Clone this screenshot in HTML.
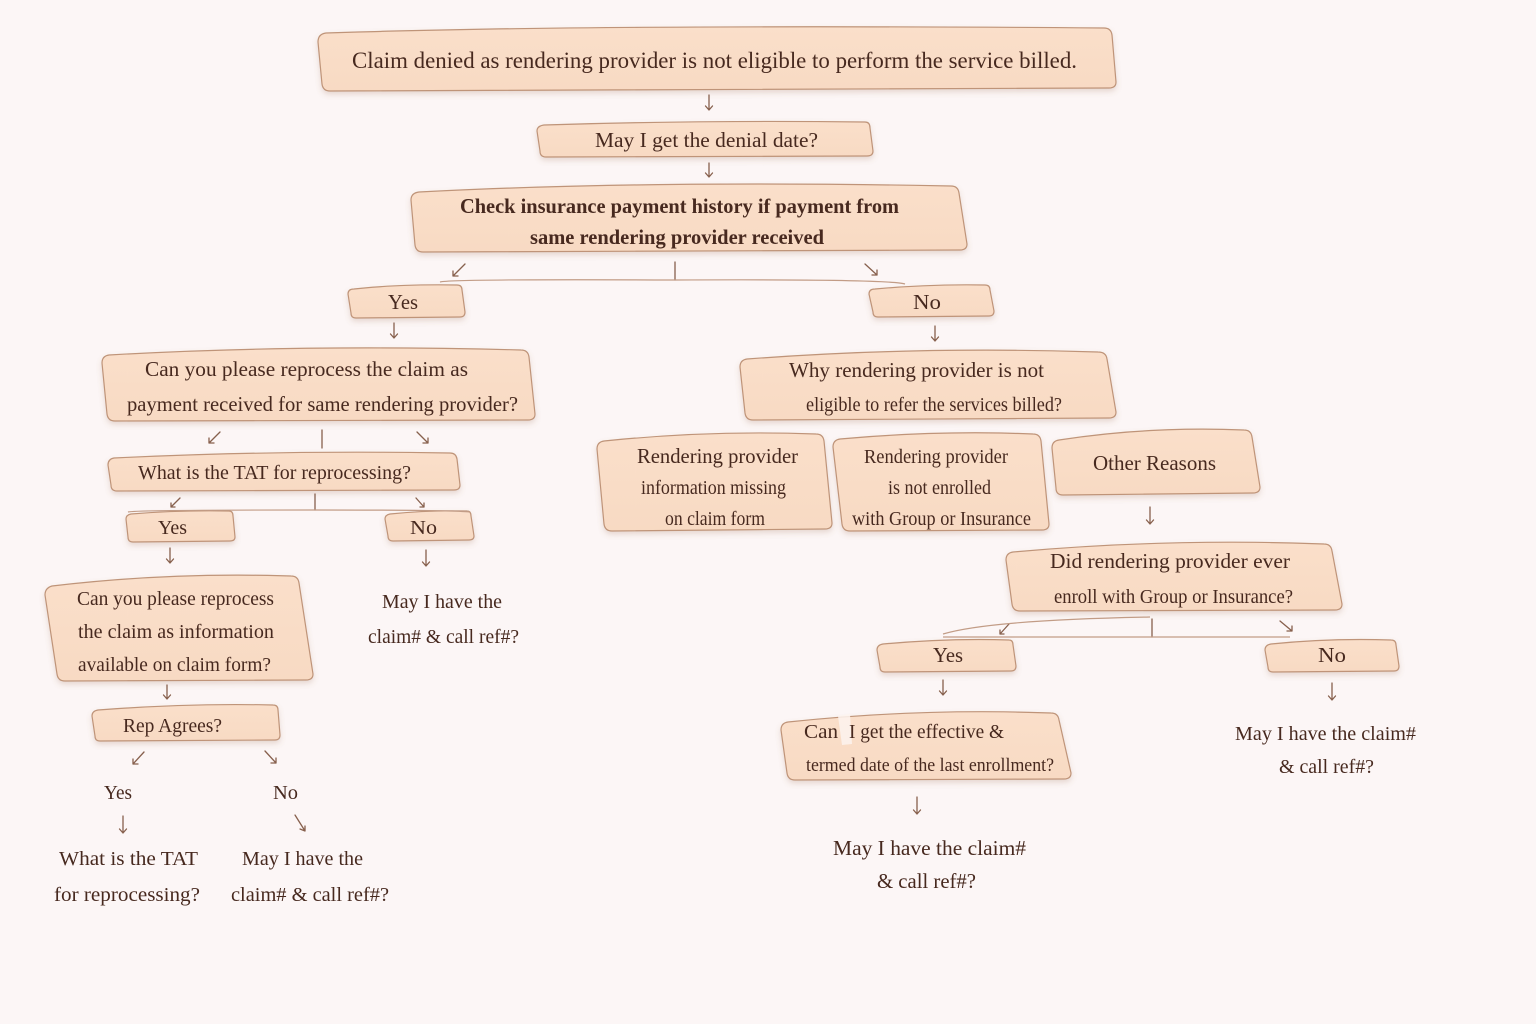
<!DOCTYPE html>
<html><head><meta charset="utf-8"><style>
html,body{margin:0;padding:0;background:#fcf6f6;}
svg{display:block;}
text{font-family:"Liberation Serif",serif;fill:#47291f;}
.b{fill:url(#g);stroke:#bf9479;stroke-width:1.2;filter:url(#sh);}
.c{stroke:#87604d;stroke-width:1.3;fill:none;stroke-linecap:round;stroke-linejoin:round;}
.t{stroke:#c29c86;stroke-width:1.2;fill:none;}
</style></head><body>
<svg width="1536" height="1024" viewBox="0 0 1536 1024" xmlns="http://www.w3.org/2000/svg">
<defs>
<linearGradient id="g" x1="0" y1="0" x2="0" y2="1"><stop offset="0" stop-color="#fadfca"/><stop offset="1" stop-color="#f8dac3"/></linearGradient>
<filter id="sh" x="-10%" y="-20%" width="120%" height="150%"><feDropShadow dx="0" dy="3" stdDeviation="3" flood-color="#9a6a50" flood-opacity="0.22"/></filter>
</defs>
<rect width="1536" height="1024" fill="#fcf6f6"/>

<!-- boxes -->
<path class="b" d="M326,33 Q600,24 1104,28 Q1111,28 1112,35 L1116,82 Q1116,88 1109,88 L330,91 Q323,91 322,84 L318,42 Q318,34 326,33 Z"/>
<path class="b" d="M544,125 Q700,120 865,122 Q870,122 870,128 L873,151 Q873,156 867,156 L546,157 Q540,157 540,151 L537,131 Q537,126 544,125 Z"/>
<path class="b" d="M419,192 Q650,180 951,186 Q958,186 959,193 L967,244 Q967,250 960,250 L423,252 Q416,252 415,245 L411,200 Q411,193 419,192 Z"/>
<path class="b" d="M354,289 Q400,284 457,285 Q462,285 462,290 L465,312 Q465,317 460,317 L356,318 Q351,318 351,313 L348,294 Q348,289 354,289 Z"/>
<path class="b" d="M875,289 Q930,284 985,285 Q990,285 990,290 L994,311 Q994,316 989,316 L878,317 Q873,317 873,312 L869,294 Q869,289 875,289 Z"/>
<path class="b" d="M109,355 Q300,344 521,350 Q528,350 529,357 L535,414 Q535,420 528,420 L115,421 Q108,421 107,414 L102,363 Q102,356 109,355 Z"/>
<path class="b" d="M114,458 Q280,450 450,453 Q456,453 457,459 L460,485 Q460,490 454,490 L117,491 Q111,491 111,485 L108,465 Q108,459 114,458 Z"/>
<path class="b" d="M131,514 Q180,510 229,511 Q233,511 233,516 L235,537 Q235,541 230,541 L133,542 Q128,542 128,537 L126,519 Q126,515 131,514 Z"/>
<path class="b" d="M390,514 Q430,510 467,511 Q471,511 471,516 L474,536 Q474,540 469,540 L393,541 Q388,541 388,536 L385,519 Q385,515 390,514 Z"/>
<path class="b" d="M52,586 Q170,572 291,576 Q298,576 299,583 L313,674 Q313,680 306,680 L65,681 Q58,681 57,674 L45,595 Q45,588 52,586 Z"/>
<path class="b" d="M98,710 Q190,703 273,705 Q278,705 278,710 L280,735 Q280,740 275,740 L100,741 Q95,741 95,736 L92,716 Q92,711 98,710 Z"/>
<path class="b" d="M747,359 Q920,346 1098,352 Q1106,352 1107,359 L1116,412 Q1116,418 1109,418 L753,420 Q746,420 745,413 L740,367 Q740,360 747,359 Z"/>
<path class="b" d="M604,441 Q710,430 816,434 Q823,434 824,441 L832,523 Q832,529 825,529 L612,531 Q605,531 604,524 L597,449 Q597,442 604,441 Z"/>
<path class="b" d="M840,439 Q940,430 1033,434 Q1040,434 1041,441 L1049,524 Q1049,530 1042,530 L850,531 Q843,531 842,524 L833,447 Q833,440 840,439 Z"/>
<path class="b" d="M1059,440 Q1150,426 1244,430 Q1251,430 1252,437 L1260,487 Q1260,493 1253,493 L1063,495 Q1056,495 1056,488 L1052,448 Q1052,441 1059,440 Z"/>
<path class="b" d="M1013,552 Q1170,538 1324,544 Q1331,544 1332,551 L1342,604 Q1342,610 1335,610 L1020,611 Q1013,611 1012,604 L1006,560 Q1006,553 1013,552 Z"/>
<path class="b" d="M883,644 Q950,638 1009,640 Q1013,640 1013,645 L1016,666 Q1016,671 1011,671 L885,672 Q880,672 880,667 L877,650 Q877,645 883,644 Z"/>
<path class="b" d="M1271,644 Q1330,638 1391,640 Q1396,640 1396,645 L1399,666 Q1399,671 1394,671 L1273,672 Q1268,672 1268,667 L1265,650 Q1265,645 1271,644 Z"/>
<path class="b" d="M788,722 Q920,708 1051,713 Q1058,713 1059,720 L1071,773 Q1071,779 1064,779 L795,780 Q788,780 787,773 L781,730 Q781,723 788,722 Z"/>
<path d="M838,716 L850,714 L852,744 L842,745 Z" fill="#fdf3ee" opacity="0.85"/>

<!-- connectors -->
<g class="c">
<path d="M709,95 V110 M705.5,106 L709,110 L712.5,106"/>
<path d="M709,163 V177 M705.5,173 L709,177 L712.5,173"/>
<path d="M394,323 V338 M390.5,334 L394,338 L397.5,334"/>
<path d="M935,326 V341 M931.5,337 L935,341 L938.5,337"/>
<path d="M170,548 V563 M166.5,559 L170,563 L173.5,559"/>
<path d="M426,550 V566 M422.5,562 L426,566 L429.5,562"/>
<path d="M167,685 V699 M163.5,695 L167,699 L170.5,695"/>
<path d="M1150,507 V524 M1146.5,520 L1150,524 L1153.5,520"/>
<path d="M943,680 V695 M939.5,691 L943,695 L946.5,691"/>
<path d="M1332,683 V700 M1328.5,696 L1332,700 L1335.5,696"/>
<path d="M917,797 V814 M913.5,810 L917,814 L920.5,810"/>
<path d="M123,816 V833 M119.5,829 L123,833 L126.5,829"/>
<path d="M465,264 L453,276 M453,271 L453,276 L458,276"/>
<path d="M865,264 L877,275 M877,270 L877,275 L872,275"/>
<path d="M220,432 L209,443 M209,438 L209,443 L214,443"/>
<path d="M417,432 L428,443 M428,438 L428,443 L423,443"/>
<path d="M180,498 L171,507 M171,503 L171,507 L175,507"/>
<path d="M416,498 L424,507 M424,503 L424,507 L420,507"/>
<path d="M144,752 L133,764 M133,759 L133,764 L138,764"/>
<path d="M265,751 L276,763 M276,758 L276,763 L271,763"/>
<path d="M295,815 L305,831 M305,826 L305,831 L300,829"/>
<path d="M1009,624 L1000,634 M1000,630 L1000,634 L1004,634"/>
<path d="M1280,621 L1292,631 M1292,626 L1292,631 L1287,631"/>
<path d="M675,262 V280"/>
<path d="M322,430 V448"/>
<path d="M315,494 V510"/>
<path d="M1152,619 V637"/>
</g>
<g class="t">
<path d="M440,282 Q450,279 675,280 Q890,279 905,284"/>
<path d="M128,512 Q135,510 315,510 Q450,510 470,512"/>
<path d="M943,637 L1290,637"/>
<path d="M943,634 Q990,620 1150,617"/>
</g>

<!-- texts -->
<text x="352" y="68" font-size="23" textLength="725" lengthAdjust="spacingAndGlyphs">Claim denied as rendering provider is not eligible to perform the service billed.</text>
<text x="595" y="147" font-size="21" textLength="223" lengthAdjust="spacingAndGlyphs">May I get the denial date?</text>
<text x="460" y="213" font-size="21" font-weight="bold" textLength="439" lengthAdjust="spacingAndGlyphs">Check insurance payment history if payment from</text>
<text x="530" y="244" font-size="21" font-weight="bold" textLength="294" lengthAdjust="spacingAndGlyphs">same rendering provider received</text>
<text x="388" y="309" font-size="21" textLength="30" lengthAdjust="spacingAndGlyphs">Yes</text>
<text x="913" y="309" font-size="21" textLength="28" lengthAdjust="spacingAndGlyphs">No</text>
<text x="145" y="376" font-size="21" textLength="323" lengthAdjust="spacingAndGlyphs">Can you please reprocess the claim as</text>
<text x="127" y="411" font-size="21" textLength="391" lengthAdjust="spacingAndGlyphs">payment received for same rendering provider?</text>
<text x="138" y="479" font-size="20" textLength="273" lengthAdjust="spacingAndGlyphs">What is the TAT for reprocessing?</text>
<text x="158" y="534" font-size="20" textLength="29" lengthAdjust="spacingAndGlyphs">Yes</text>
<text x="410" y="534" font-size="20" textLength="27" lengthAdjust="spacingAndGlyphs">No</text>
<text x="77" y="605" font-size="20" textLength="197" lengthAdjust="spacingAndGlyphs">Can you please reprocess</text>
<text x="78" y="638" font-size="20" textLength="196" lengthAdjust="spacingAndGlyphs">the claim as information</text>
<text x="78" y="671" font-size="20" textLength="193" lengthAdjust="spacingAndGlyphs">available on claim form?</text>
<text x="382" y="608" font-size="20" textLength="120" lengthAdjust="spacingAndGlyphs">May I have the</text>
<text x="368" y="643" font-size="20" textLength="151" lengthAdjust="spacingAndGlyphs">claim# &amp; call ref#?</text>
<text x="123" y="732" font-size="20" textLength="99" lengthAdjust="spacingAndGlyphs">Rep Agrees?</text>
<text x="104" y="799" font-size="20" textLength="28" lengthAdjust="spacingAndGlyphs">Yes</text>
<text x="273" y="799" font-size="20" textLength="25" lengthAdjust="spacingAndGlyphs">No</text>
<text x="59" y="865" font-size="20" textLength="139" lengthAdjust="spacingAndGlyphs">What is the TAT</text>
<text x="54" y="901" font-size="20" textLength="146" lengthAdjust="spacingAndGlyphs">for reprocessing?</text>
<text x="242" y="865" font-size="20" textLength="121" lengthAdjust="spacingAndGlyphs">May I have the</text>
<text x="231" y="901" font-size="20" textLength="158" lengthAdjust="spacingAndGlyphs">claim# &amp; call ref#?</text>
<text x="789" y="377" font-size="21" textLength="255" lengthAdjust="spacingAndGlyphs">Why rendering provider is not</text>
<text x="806" y="411" font-size="20" textLength="256" lengthAdjust="spacingAndGlyphs">eligible to refer the services billed?</text>
<text x="637" y="463" font-size="21" textLength="161" lengthAdjust="spacingAndGlyphs">Rendering provider</text>
<text x="641" y="494" font-size="20" textLength="145" lengthAdjust="spacingAndGlyphs">information missing</text>
<text x="665" y="525" font-size="20" textLength="100" lengthAdjust="spacingAndGlyphs">on claim form</text>
<text x="864" y="463" font-size="20" textLength="144" lengthAdjust="spacingAndGlyphs">Rendering provider</text>
<text x="888" y="494" font-size="20" textLength="103" lengthAdjust="spacingAndGlyphs">is not enrolled</text>
<text x="852" y="525" font-size="20" textLength="179" lengthAdjust="spacingAndGlyphs">with Group or Insurance</text>
<text x="1093" y="470" font-size="21" textLength="123" lengthAdjust="spacingAndGlyphs">Other Reasons</text>
<text x="1050" y="568" font-size="21" textLength="240" lengthAdjust="spacingAndGlyphs">Did rendering provider ever</text>
<text x="1054" y="603" font-size="20" textLength="239" lengthAdjust="spacingAndGlyphs">enroll with Group or Insurance?</text>
<text x="933" y="662" font-size="21" textLength="30" lengthAdjust="spacingAndGlyphs">Yes</text>
<text x="1318" y="662" font-size="21" textLength="28" lengthAdjust="spacingAndGlyphs">No</text>
<text x="804" y="738" font-size="20" textLength="34" lengthAdjust="spacingAndGlyphs">Can</text>
<text x="849" y="738" font-size="20" textLength="155" lengthAdjust="spacingAndGlyphs">I get the effective &amp;</text>
<text x="806" y="771" font-size="19" textLength="248" lengthAdjust="spacingAndGlyphs">termed date of the last enrollment?</text>
<text x="1235" y="740" font-size="20" textLength="181" lengthAdjust="spacingAndGlyphs">May I have the claim#</text>
<text x="1279" y="773" font-size="20" textLength="95" lengthAdjust="spacingAndGlyphs">&amp; call ref#?</text>
<text x="833" y="855" font-size="21" textLength="193" lengthAdjust="spacingAndGlyphs">May I have the claim#</text>
<text x="877" y="888" font-size="21" textLength="99" lengthAdjust="spacingAndGlyphs">&amp; call ref#?</text>
</svg>
</body></html>
